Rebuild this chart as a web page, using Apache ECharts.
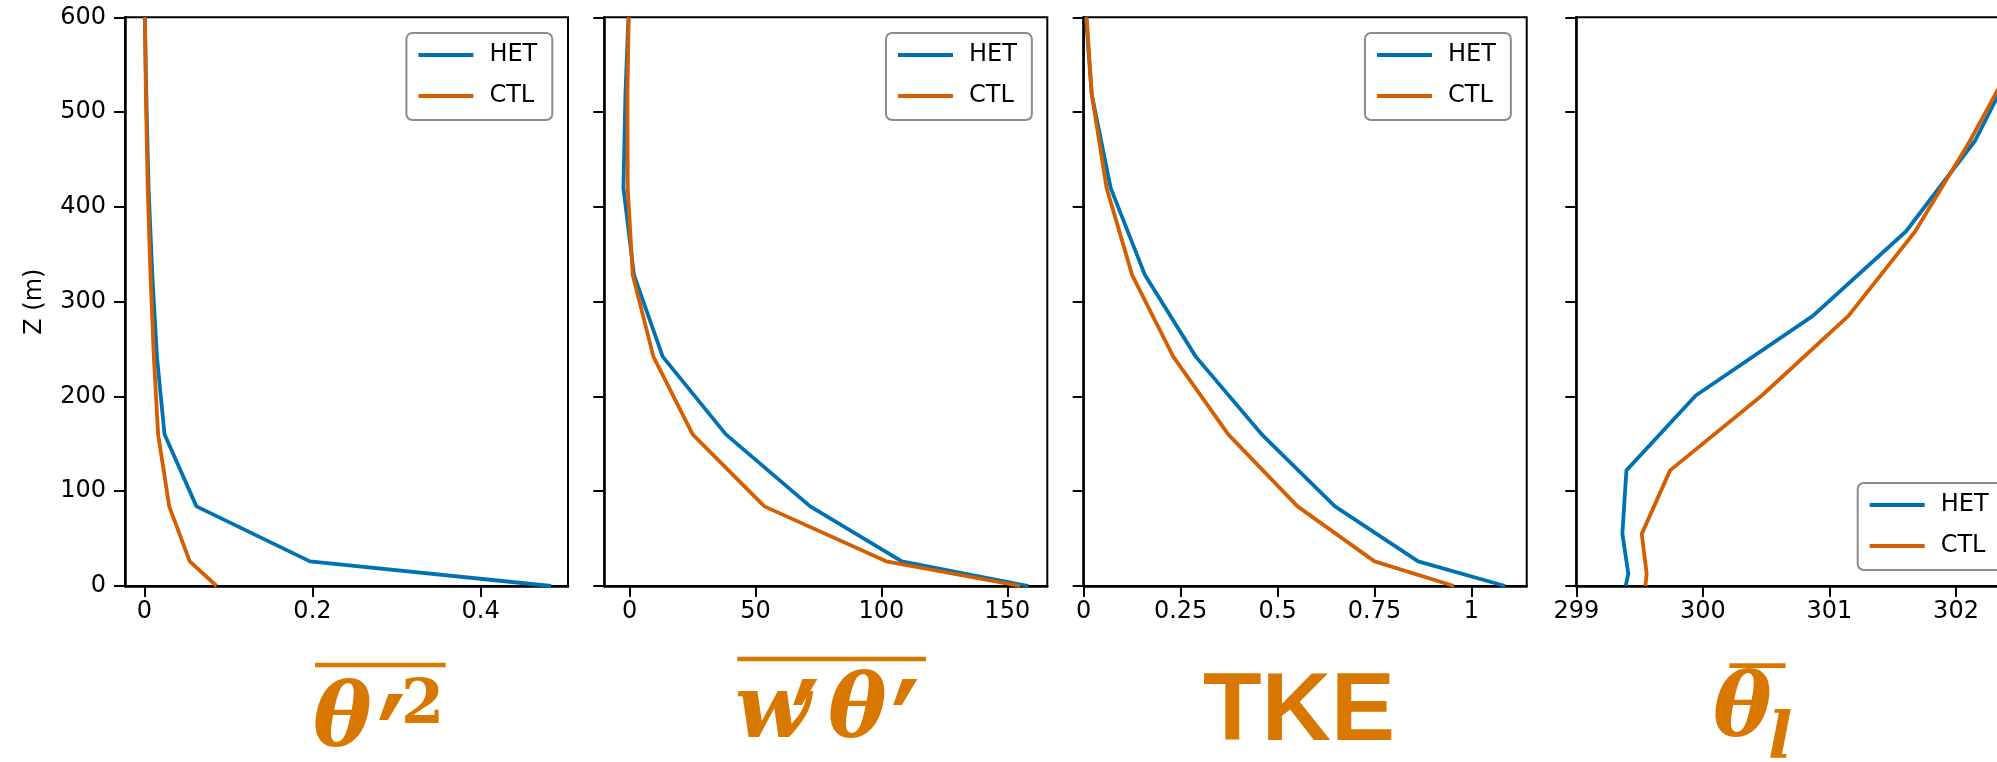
<!DOCTYPE html>
<html>
<head>
<meta charset="utf-8">
<script src="https://cdn.jsdelivr.net/npm/echarts@6/dist/echarts.min.js"></script>
<style>
  html, body { margin: 0; background: #fff; overflow: hidden; }
  #chart { width: 2030px; height: 762px; }
</style>
</head>
<body>
<div id="chart"></div>
<script>
// heights (m): fluxes / variances on faces, theta on cell centres
const zFace = [0, 26, 84, 160, 242, 328, 420, 519, 600];
const zCenter = [0, 13, 55, 122, 201, 285, 374, 470, 570];

// theta'^2
const het1 = [0.484, 0.197, 0.062, 0.024, 0.015, 0.0095, 0.005, 0.0023, 0.0005];
const ctl1 = [0.086, 0.054, 0.0296, 0.0164, 0.0113, 0.0073, 0.004, 0.0018, 0.0008];
// w'theta'
const het2 = [158.4, 108.1, 71.7, 38.2, 13.1, 1.7, -2.5, -1.7, -0.5];
const ctl2 = [155.1, 101.9, 53.5, 25.0, 9.4, 1.2, -0.8, -0.9, -0.4];
// TKE
const het3 = [1.087, 0.8625, 0.648, 0.459, 0.289, 0.158, 0.0695, 0.0206, 0.006];
const ctl3 = [0.955, 0.750, 0.5515, 0.3727, 0.231, 0.125, 0.059, 0.0206, 0.0077];
// theta_l
const het4 = [299.39, 299.411, 299.364, 299.396, 299.944, 300.869, 301.604, 302.152, 302.53];
const ctl4 = [299.546, 299.556, 299.517, 299.741, 300.466, 301.150, 301.677, 302.112, 302.52];

const xTicks = [
  [0, 0.2, 0.4],
  [0, 50, 100, 150],
  [0, 0.25, 0.5, 0.75, 1],
  [299, 300, 301, 302],
];
const xRange = [[-0.023, 0.504], [-10.1, 165.9], [0, 1.1425], [299, 302.5]];
const yTicks = [0, 100, 200, 300, 400, 500, 600];
const seriesNames = ['HET', 'CTL'];
const colors = ['#0072b2', '#d55e00'];

const panels = [
  { het: het1, ctl: ctl1, z: zFace },
  { het: het2, ctl: ctl2, z: zFace },
  { het: het3, ctl: ctl3, z: zFace },
  { het: het4, ctl: ctl4, z: zCenter },
];

const gridLeft = [125, 604.3, 1083.7, 1576.3];
const gridW = 443;
const gridTop = 17.3, gridH = 568.7;

const pairs = (xs, zs) => xs.map((x, i) => [x, zs[i]]);

const grid = gridLeft.map(l => ({
  left: l, top: gridTop, width: gridW, height: gridH,
  show: true, borderColor: '#000', borderWidth: 2, backgroundColor: 'transparent'
}));

const xAxis = xTicks.map((t, i) => ({
  type: 'value', gridIndex: i, min: xRange[i][0], max: xRange[i][1],
  splitLine: { show: false },
  axisLine: { show: true, onZero: false, lineStyle: { color: '#000', width: 2.5 } },
  axisTick: { show: true, customValues: t, length: 11, lineStyle: { color: '#000', width: 2 } },
  axisLabel: { customValues: t, fontSize: 24, color: '#000', margin: 14, fontFamily: 'DejaVu Sans' },
}));

const yAxis = [0, 1, 2, 3].map(i => ({
  type: 'value', gridIndex: i, min: 0, max: 600,
  splitLine: { show: false },
  name: i === 0 ? 'Z (m)' : '', nameLocation: 'middle', nameGap: 78,
  nameTextStyle: { fontSize: 24, color: '#000', fontFamily: 'DejaVu Sans' },
  axisLine: { show: true, onZero: false, lineStyle: { color: '#000', width: 2.5 } },
  axisTick: { show: true, customValues: yTicks, length: 11, lineStyle: { color: '#000', width: 2 } },
  axisLabel: { show: i === 0, customValues: yTicks, fontSize: 24, color: '#000', margin: 19, fontFamily: 'DejaVu Sans' },
}));

const series = [];
panels.forEach((p, i) => {
  [p.het, p.ctl].forEach((xs, k) => {
    series.push({
      type: 'line', name: seriesNames[k], xAxisIndex: i, yAxisIndex: i,
      data: pairs(xs, p.z), symbol: 'none', showSymbol: false, clip: true,
      lineStyle: { color: colors[k], width: 3.8 }, itemStyle: { color: colors[k] },
    });
  });
});

const legendPos = [[406.4, 33], [886, 33], [1365, 33], [1857.7, 483]];
const legend = legendPos.map(pos => ({
  data: seriesNames, left: pos[0], top: pos[1], orient: 'vertical',
  icon: 'rect', itemWidth: 55, itemHeight: 3.8, itemGap: 17,
  padding: [10, 15, 12, 12],
  borderColor: '#8c8c8c', borderWidth: 2, borderRadius: 6, backgroundColor: '#fff',
  textStyle: { fontSize: 24, color: '#000', fontFamily: 'DejaVu Sans', padding: [0, 0, 0, 11] },
  selectedMode: false,
}));

// big variable names under each panel
const lab = '#d97800';
const mathFont = 'DejaVu Serif';
const txt = (x, y, s, size, opts = {}) => ({
  type: 'text', x, y,
  style: Object.assign({
    text: s, fill: lab, fontSize: size, fontFamily: mathFont,
    fontWeight: 'bold', fontStyle: 'italic', textAlign: 'left', textVerticalAlign: 'middle'
  }, opts)
});
const prime = (x, y) => Object.assign(
  txt(x, y, '′', 110, { fontFamily: 'DejaVu Sans', fontStyle: 'normal' }),
  { scaleY: 1.3 }
);
const bar = (x0, x1, y) => ({ type: 'rect', shape: { x: x0, y: y, width: x1 - x0, height: 4.6 }, style: { fill: lab } });

const graphic = [
  bar(315, 445.7, 662.7),
  txt(313, 723, 'θ', 88),
  prime(377, 761),
  txt(401, 707, '2', 62, { fontStyle: 'normal' }),

  bar(737.3, 926, 656.7),
  txt(735, 714, 'w', 88),
  prime(791, 746),
  txt(828, 714, 'θ', 88),
  prime(891, 746),

  txt(1203, 714, 'TKE', 96, { fontFamily: 'Liberation Sans', fontStyle: 'normal' }),

  bar(1729.5, 1785.6, 663.3),
  txt(1713, 713, 'θ', 88),
  txt(1768, 740, 'l', 64),
];

const chart = echarts.init(document.getElementById('chart'));
chart.setOption({
  animation: false,
  backgroundColor: '#fff',
  grid, xAxis, yAxis, series, legend, graphic,
});
</script>
</body>
</html>
